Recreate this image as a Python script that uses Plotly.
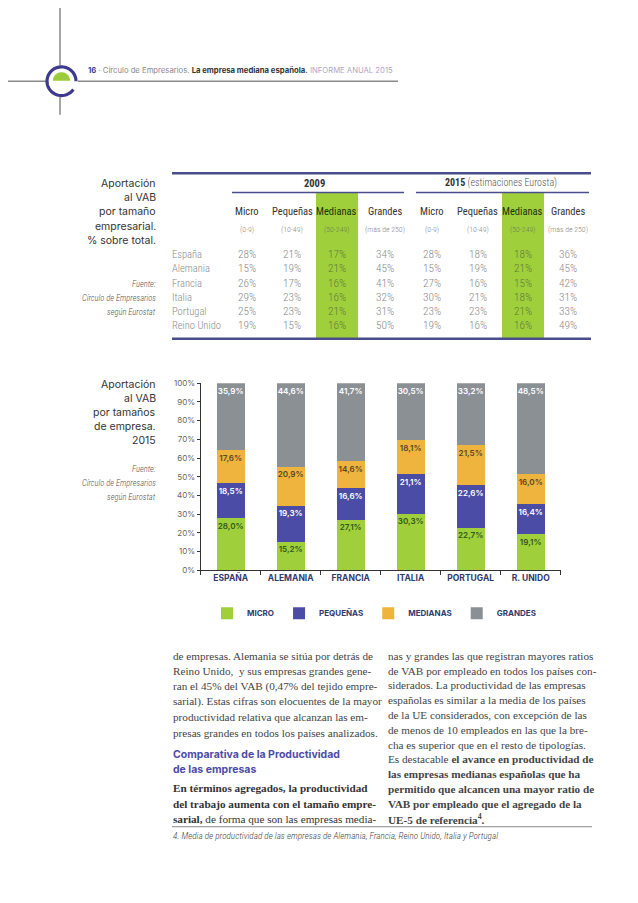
import numpy as np
import plotly.graph_objects as go

# page is 638x903; the html body has an 8px margin, so the figure is offset
PAGE_W, PAGE_H = 638, 903
OX, OY = 8, 8
W, H = PAGE_W - 2 * OX, PAGE_H - 2 * OY

# ---------------- DATA ----------------
countries = ["ESPAÑA", "ALEMANIA", "FRANCIA", "ITALIA", "PORTUGAL", "R. UNIDO"]
series_names = ["MICRO", "PEQUEÑAS", "MEDIANAS", "GRANDES"]
micro = [28.0, 15.2, 27.1, 30.3, 22.7, 19.1]
pequenas = [18.5, 19.3, 16.6, 21.1, 22.6, 16.4]
medianas = [17.6, 20.9, 14.6, 18.1, 21.5, 16.0]
grandes = [35.9, 44.6, 41.7, 30.5, 33.2, 48.5]

table_countries = ["España", "Alemania", "Francia", "Italia", "Portugal", "Reino Unido"]
table_sizes = ["Micro", "Pequeñas", "Medianas", "Grandes"]
table_ranges_2009 = ["(0-9)", "(10-49)", "(50-249)", "(más de 250)"]
table_ranges_2015 = ["(0-9)", "(10-49)", "(50-249)", "(más de 250)"]
t2009 = [
    [28, 21, 17, 34],
    [15, 19, 21, 45],
    [26, 17, 16, 41],
    [29, 23, 16, 32],
    [25, 23, 21, 31],
    [19, 15, 16, 50],
]
t2015 = [
    [28, 18, 18, 36],
    [15, 19, 21, 45],
    [27, 16, 15, 42],
    [30, 21, 18, 31],
    [23, 23, 21, 33],
    [19, 16, 16, 49],
]

left_col_lines = [
    "de empresas. Alemania se sitúa por detrás de",
    "Reino Unido,  y sus empresas grandes gene-",
    "ran el 45% del VAB (0,47% del tejido empre-",
    "sarial). Estas cifras son elocuentes de la mayor",
    "productividad relativa que alcanzan las em-",
    "presas grandes en todos los países analizados.",
]
heading_lines = ["Comparativa de la Productividad", "de las empresas"]
left_bold_lines = [
    "<b>En términos agregados, la productividad</b>",
    "<b>del trabajo aumenta con el tamaño empre-</b>",
    "<b>sarial,</b> de forma que son las empresas media-",
]
right_col_lines = [
    "nas y grandes las que registran mayores ratios",
    "de VAB por empleado en todos los países con-",
    "siderados. La productividad de las empresas",
    "españolas es similar a la media de los países",
    "de la UE considerados, con excepción de las",
    "de menos de 10 empleados en las que la bre-",
    "cha es superior que en el resto de tipologías.",
    "Es destacable <b>el avance en productividad de</b>",
    "<b>las empresas medianas españolas que ha</b>",
    "<b>permitido que alcancen una mayor ratio de</b>",
    "<b>VAB por empleado que el agregado de la</b>",
    "<b>UE-5 de referencia<sup>4</sup>.</b>",
]
footnote = "4. Media de productividad de las empresas de Alemania, Francia, Reino Unido, Italia y Portugal"

# ---------------- STYLE ----------------
C_MICRO = "#9fd03c"
C_PEQ = "#4b4ca6"
C_MED = "#efb43e"
C_GRA = "#8b9094"
NAVY = "#2f3a6e"
SANS = "Inter, Lato, sans-serif"
COND = "Roboto Condensed, Liberation Sans Narrow, Roboto, sans-serif"
SERIF = "Liberation Serif, serif"


def X(p):
    return (p - OX) / W


def Y(p):
    return 1 - (p - OY) / H


annotations = []
shapes = []


def ann(text, x, y, size, color, family=SANS, xanchor="left", yanchor="middle", weight=None):
    f = dict(size=size, color=color, family=family)
    if weight is not None:
        f["weight"] = weight
    annotations.append(dict(
        text=text, x=X(x), y=Y(y), xref="paper", yref="paper",
        xanchor=xanchor, yanchor=yanchor, showarrow=False, font=f, borderpad=0,
    ))


def line(x0, y0, x1, y1, color, width):
    shapes.append(dict(type="line", xref="paper", yref="paper",
                       x0=X(x0), y0=Y(y0), x1=X(x1), y1=Y(y1),
                       line=dict(color=color, width=width)))


def rect(x0, y0, x1, y1, color):
    shapes.append(dict(type="rect", xref="paper", yref="paper",
                       x0=X(x0), y0=Y(y0), x1=X(x1), y1=Y(y1),
                       fillcolor=color, line=dict(width=0), layer="below"))


# ---------------- BAR CHART ----------------
fig = go.Figure()
series = [micro, pequenas, medianas, grandes]
colors = [C_MICRO, C_PEQ, C_MED, C_GRA]
text_colors = ["#33581a", "#ffffff", "#5a4822", "#ffffff"]
for name, vals, col, tcol in zip(series_names, series, colors, text_colors):
    fig.add_trace(go.Bar(
        name=name, x=countries, y=vals, marker=dict(color=col, line=dict(width=0)),
        texttemplate="%{y:.1f}%", textposition="inside", insidetextanchor="end",
        textangle=0,
        textfont=dict(size=8.4, color=tcol, family=SANS, weight=600),
        hoverinfo="skip",
    ))

# ---------------- HEADER ----------------
line(60, 0, 60, 61, "#8a8a8a", 1.5)
line(60, 93, 60, 111, "#8a8a8a", 1.5)
line(0, 77, 46, 77, "#8a8a8a", 1.5)
line(78, 77, 398, 77, "#8a8a8a", 1.5)
cx, cy, r = 61.5, 77, 14.5
t = np.radians(np.linspace(0, 325, 60))
pts = [(X(cx + r * np.cos(a)), Y(cy - r * np.sin(a))) for a in t]
path = "M" + " L".join(f"{a:.5f},{b:.5f}" for a, b in pts)
shapes.append(dict(type="path", xref="paper", yref="paper", path=path,
                   line=dict(color="#3d3a8e", width=3.2)))
rg = 8.6
tg = np.radians(np.linspace(0, 180, 40))
ptsg = [(X(cx + rg * np.cos(a)), Y(cy - 0.5 - rg * np.sin(a))) for a in tg]
pathg = "M" + " L".join(f"{a:.5f},{b:.5f}" for a, b in ptsg) + " Z"
shapes.append(dict(type="path", xref="paper", yref="paper", path=pathg,
                   fillcolor="#9ccc3c", line=dict(width=0)))
ann('<span style="color:#3b3f8f"><b>16</b></span><span style="color:#8a8a8a"> · Círculo de Empresarios. </span>'
    '<b>La empresa mediana española.</b><span style="color:#a8a8c8"> INFORME ANUAL 2015</span>',
    87, 66, 7.7, "#333333")

# ---------------- TABLE ----------------
for i, txt in enumerate(["Aportación", "al VAB", "por tamaño", "empresarial.", "% sobre total."]):
    ann(txt, 157, 180 + 14.5 * i, 10.5, "#333333", SANS, xanchor="right")
for i, txt in enumerate(["Fuente:", "Círculo de Empresarios", "según Eurostat"]):
    ann(f"<i>{txt}</i>", 157, 282 + 14.2 * i, 8.5, "#555555", COND, xanchor="right", weight=300)

col2009 = [246.7, 292, 336.7, 385]
col2015 = [431.7, 477.7, 522.7, 568.3]
row_y = [252.3, 266.7, 281.2, 295.6, 310, 324.4]

rect(316, 189.5, 358, 337, C_MICRO)
rect(502, 189.5, 544, 337, C_MICRO)
line(172, 170, 591, 170, "#4a4d8c", 2.5)
line(172, 337.5, 591, 337.5, "#4a4d8c", 2.5)
line(232, 189.5, 404, 189.5, "#4a4d8c", 1.5)
line(416, 189.5, 589, 189.5, "#4a4d8c", 1.5)

ann("<b>2009</b>", 314, 180, 10.5, "#333333", COND, xanchor="center")
ann('<b>2015</b> <span style="color:#555">(estimaciones Eurosta)</span>', 501, 180, 10, "#333333", COND,
    xanchor="center", weight=300)

for cols, rngs, data in [(col2009, table_ranges_2009, t2009), (col2015, table_ranges_2015, t2015)]:
    for j, (cxp, sz, rg_) in enumerate(zip(cols, table_sizes, rngs)):
        hcol = "#22300c" if sz == "Medianas" else "#333333"
        ann(sz, cxp, 208.5, 10.5, hcol, COND, xanchor="center")
        ann(rg_, cxp, 226.5, 7.8, "#6f7f55" if sz == "Medianas" else "#888888", COND,
            xanchor="center", weight=300)
        for i, ry in enumerate(row_y):
            vcol = "#5f7a3a" if sz == "Medianas" else "#8a8a8a"
            ann(f"{data[i][j]}%", cxp, ry, 11.3, vcol, COND, xanchor="center", weight=300)
for i, (name, ry) in enumerate(zip(table_countries, row_y)):
    ann(name, 171, ry, 10.5, "#8a8a8a", COND, xanchor="left", weight=300)

# ---------------- CHART SIDE LABELS ----------------
for i, txt in enumerate(["Aportación", "al VAB", "por tamaños", "de empresa.", "2015"]):
    ann(txt, 157, 384 + 14.2 * i, 10.5, "#333333", SANS, xanchor="right")
for i, txt in enumerate(["Fuente:", "Círculo de Empresarios", "según Eurostat"]):
    ann(f"<i>{txt}</i>", 157, 469 + 14.5 * i, 8.5, "#555555", COND, xanchor="right", weight=300)

# ---------------- BODY TEXT ----------------
for i, txt in enumerate(left_col_lines):
    ann(txt, 172, 658 + 15.6 * i, 11.2, "#444444", SERIF)
for i, txt in enumerate(heading_lines):
    ann(f"<b>{txt}</b>", 172, 758 + 15.5 * i, 10.5, "#4b4ca6", SANS)
for i, txt in enumerate(left_bold_lines):
    ann(txt, 172, 792 + 15.7 * i, 11.2, "#333333", SERIF)
for i, txt in enumerate(right_col_lines):
    ann(txt, 387, 658 + 15.0 * i, 11.2, "#444444", SERIF)
line(172, 831, 592, 831, "#888888", 1)
ann(f"<i>{footnote}</i>", 172, 840, 9.2, "#444444", COND, weight=300)

# ---------------- LAYOUT ----------------
fig.update_layout(
    width=W, height=H, margin=dict(l=0, r=0, t=0, b=0),
    paper_bgcolor="white", plot_bgcolor="white",
    barmode="stack", bargap=0.533, separators=",.",
    font=dict(family=SANS, color="#333333"),
    uniformtext=dict(minsize=8, mode="show"),
    xaxis=dict(domain=[X(200.7), X(560.7)], range=[-0.5, 5.5], showline=True,
               linecolor="#333333", linewidth=1, ticks="outside", tickson="boundaries",
               ticklen=4, tickcolor="#333333", showgrid=False,
               tickfont=dict(size=8.5, color=NAVY, family=SANS, weight=700)),
    yaxis=dict(domain=[Y(571.5), Y(382.5)], range=[0, 100], dtick=10, ticksuffix="%",
               showline=True, linecolor="#333333", linewidth=1, ticks="outside",
               ticklen=3, tickcolor="#333333", showgrid=False, zeroline=False,
               tickfont=dict(size=8, color="#666666", family=SANS)),
    legend=dict(orientation="h", x=X(207), y=Y(615), xanchor="left", yanchor="middle",
                font=dict(size=8, color=NAVY, family=SANS, weight=700),
                traceorder="normal", bgcolor="rgba(0,0,0,0)"),
    annotations=annotations, shapes=shapes,
)

fig.write_html("out.html")
